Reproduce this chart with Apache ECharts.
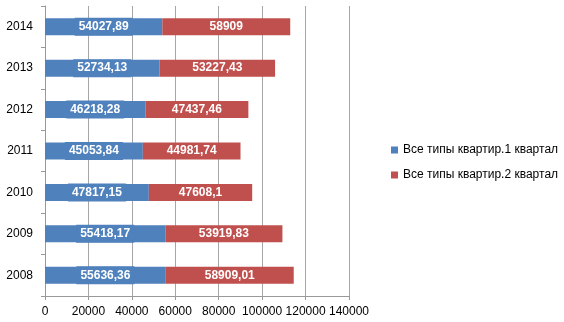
<!DOCTYPE html>
<html><head><meta charset="utf-8">
<script src="https://cdn.jsdelivr.net/npm/echarts@6/dist/echarts.min.js"></script>
<style>html,body{margin:0;padding:0;background:#fff}#c{width:564px;height:322px}</style>
</head><body><div id="c"></div>
<script>
const years = ['2008','2009','2010','2011','2012','2013','2014'];
const q1 = [55636.36, 55418.17, 47817.15, 45053.84, 46218.28, 52734.13, 54027.89];
const q2 = [58909.01, 53919.83, 47608.1, 44981.74, 47437.46, 53227.43, 58909];
const seriesNames = ['Все типы квартир.1 квартал', 'Все типы квартир.2 квартал'];
const fmt = v => String(v).replace('.', ',');
const font = '"Liberation Sans", Arial, sans-serif';
const chart = echarts.init(document.getElementById('c'), null, {renderer: 'canvas'});
chart.setOption({
  animation: false,
  textStyle: {fontFamily: font},
  grid: {left: 45, right: 215, top: 6, bottom: 26, containLabel: false},
  legend: {
    orient: 'vertical', left: 386, top: 138, itemWidth: 7, itemHeight: 7, itemGap: 11,
    icon: 'rect', textStyle: {fontSize: 12, color: '#000', fontFamily: font, padding: [0,0,0,0], lineHeight: 14},
    data: seriesNames
  },
  xAxis: {
    type: 'value', min: 0, max: 140000, interval: 20000,
    axisLine: {show: true, lineStyle: {color: '#999999'}},
    axisTick: {show: true, length: 4, lineStyle: {color: '#999999'}},
    axisLabel: {fontSize: 12, color: '#000', margin: 10, fontFamily: font, formatter: v => String(v)},
    splitLine: {show: true, lineStyle: {color: '#A6A6A6', width: 1}}
  },
  yAxis: {
    type: 'category', data: years,
    axisLine: {show: true, lineStyle: {color: '#999999'}},
    axisTick: {show: true, length: 4, lineStyle: {color: '#999999'}},
    axisLabel: {fontSize: 12, color: '#000', margin: 12, fontFamily: font}
  },
  series: [
    {name: seriesNames[0], type: 'bar', stack: 'a', data: q1, barWidth: '41%',
     itemStyle: {color: '#4F81BD'},
     label: {show: true, position: 'inside', color: '#fff', fontWeight: 'bold', fontSize: 12,
       fontFamily: font, backgroundColor: '#4F81BD', padding: [3, 4], formatter: p => fmt(p.value)}},
    {name: seriesNames[1], type: 'bar', stack: 'a', data: q2, barWidth: '41%',
     itemStyle: {color: '#C0504D'},
     label: {show: true, position: 'inside', color: '#fff', fontWeight: 'bold', fontSize: 12,
       fontFamily: font, formatter: p => fmt(p.value)}}
  ]
});
</script></body></html>
